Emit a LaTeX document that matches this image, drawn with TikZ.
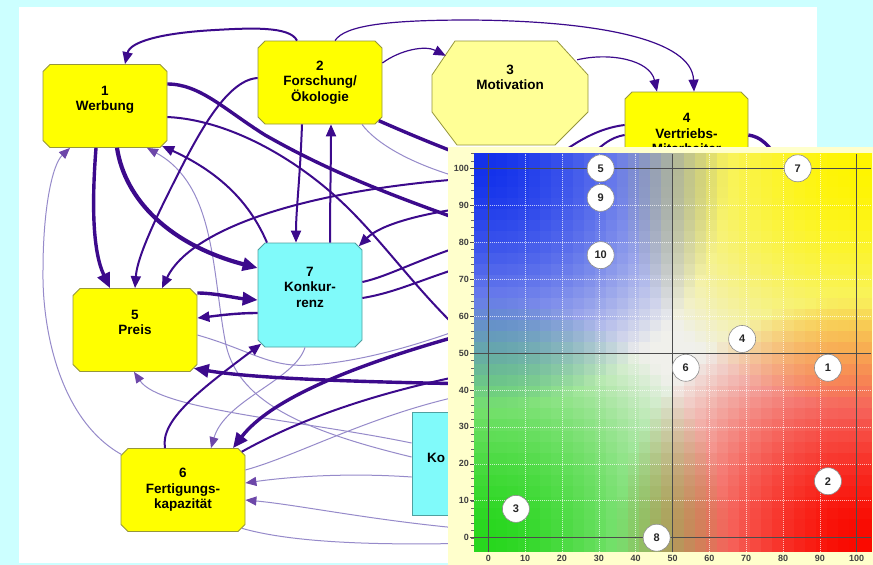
\documentclass[tikz,border=0pt]{standalone}
\usepackage{fontspec}
\setmainfont{Liberation Sans}
\usetikzlibrary{arrows.meta,shapes.misc}

\definecolor{pagecyan}{RGB}{204,255,255}
\definecolor{boxyellow}{RGB}{255,255,0}
\definecolor{paleyellow}{RGB}{255,255,150}
\definecolor{boxcyan}{RGB}{128,250,250}
\definecolor{boxedge}{RGB}{150,150,60}
\definecolor{cyanedge}{RGB}{80,160,160}
\definecolor{link}{RGB}{60,10,140}
\definecolor{lightlink}{RGB}{150,138,202}
\definecolor{chartbg}{RGB}{255,255,204}

\tikzset{
  box/.style={chamfered rectangle, chamfered rectangle sep=3.5pt, draw=boxedge, line width=0.8pt,
    fill=boxyellow, minimum width=124pt, minimum height=83pt, inner sep=0pt, align=center,
    font=\fontsize{13.5}{15.5}\selectfont\bfseries},
  cbox/.style={box, fill=boxcyan, draw=cyanedge, minimum width=104pt, minimum height=104pt},
  arr/.style={-{Triangle[length=12pt,width=10pt]}},
  lavarr/.style={-{Triangle[length=11pt,width=9pt,color=link!75]}},
  bigarr/.style={-{Triangle[length=15pt,width=13pt]}},
  thickl/.style={draw=link, line width=3.4pt},
  midl/.style={draw=link, line width=2pt},
  thinl/.style={draw=link, line width=1.2pt},
  lav/.style={draw=lightlink, line width=1pt},
  gridl/.style={white, opacity=0.7, line width=0.6pt, dash pattern=on 1pt off 1pt},
  axisl/.style={black!70, line width=0.8pt},
  ticklbl/.style={text=black!75, font=\fontsize{9}{9}\selectfont\bfseries, inner sep=0pt},
  dot/.style={circle, fill=white, draw=black!45, line width=0.6pt, minimum size=27pt, inner sep=0pt,
    text=black!85, font=\fontsize{11}{11}\selectfont\bfseries}
}

\begin{document}
\begin{tikzpicture}[x=1pt,y=-1pt]
\useasboundingbox (0,0) rectangle (873,565);
\fill[pagecyan] (0,0) rectangle (873,565);
\fill[white] (19,7) rectangle (817,563);

% factors
\node[box] (n1) at (105,106) {1\\Werbung\\\mbox{}};
\node[box] (n2) at (320,82.5) {2\\Forschung/\\Ökologie};
% octagon of factor 3
\filldraw[fill=paleyellow, draw=boxedge, line width=0.8pt] (455,41) -- (557,41) -- (588,75) -- (588,112)
  -- (555,145) -- (457,145) -- (432,112) -- (432,75) -- cycle;
\node[align=center, inner sep=0pt, minimum width=156pt, minimum height=104pt,
  font=\fontsize{13.5}{15.5}\selectfont\bfseries] (n3) at (510,93) {3\\Motivation\\\mbox{}\\\mbox{}};
\node[box, minimum width=123pt] (n4) at (686.5,133.5) {4\\Vertriebs-\\Mitarbeiter};
\node[box] (n5) at (135,330) {5\\Preis\\\mbox{}};
\node[box] (n6) at (183,490) {6\\Fertigungs-\\kapazität};
\node[cbox] (n7) at (310,295) {7\\Konkur-\\renz\\\mbox{}};
\node[cbox, minimum height=103pt] (n8) at (464,463.5) {};
\node[anchor=west, inner sep=0pt, font=\fontsize{13.5}{15.5}\selectfont\bfseries] (t8) at (427,458) {Ko};

% ends hidden below the chart
\coordinate (h1) at (475,225);
\coordinate (h2) at (475,345);
\coordinate (h3) at (475,178);
\coordinate (h4) at (480,162);
\coordinate (h5) at (480,183);
\coordinate (h6) at (480,206);
\coordinate (h7) at (480,240);
\coordinate (h8) at (480,262);
\coordinate (h9) at (480,322);
\coordinate (h10) at (480,384);
\coordinate (h11) at (480,330);
\coordinate (h12) at (480,372);
\coordinate (h13) at (480,392);
\coordinate (h14) at (480,530);
\coordinate (h15) at (480,543);
\coordinate (h16) at (540,170);
\coordinate (h17) at (580,170);
\coordinate (h18) at (785,170);

% weak links
\draw[lav, lavarr] (n8.west |- 0,457) .. controls (300,430) and (235,400) .. (225,340)
  .. controls (212,270) and (215,185) .. (n1.south -| 147,0);
\draw[lav, lavarr] (n6.150) .. controls (60,420) and (42,330) .. (43,270)
  .. controls (43,210) and (52,165) .. (n1.south -| 70,0);
\draw[lav] (n2.south -| 362,0) .. controls (375,142) and (410,166) .. (h5);
\draw[lav] (n5.east |- 0,335) .. controls (250,350) and (270,368) .. (310,365)
  .. controls (360,362) and (420,345) .. (h9);
\draw[lav, lavarr] (n7.south -| 305,0) .. controls (295,380) and (225,400) .. (n6.north -| 211,0);
\draw[lav, lavarr] (n8.west |- 0,443) .. controls (300,420) and (160,410) .. (n5.south -| 134,0);
\draw[lav] (n6.east |- 0,470) .. controls (300,455) and (380,410) .. (h13);
\draw[lav, lavarr] (n8.west |- 0,477) .. controls (340,472) and (280,478) .. (n6.east |- 0,483);
\draw[lav, lavarr] (h14) .. controls (380,522) and (300,505) .. (n6.east |- 0,500);
\draw[lav] (n6.south east) .. controls (300,545) and (400,545) .. (h15);

% links
\draw[midl, arr] (n2.north -| 297,0) .. controls (290,26) and (250,28) .. (215,30)
  .. controls (160,33) and (130,42) .. (n1.north -| 125,0);
\draw[thinl, arr] (n2.north -| 335,0) .. controls (345,25) and (390,20) .. (470,20)
  .. controls (600,21) and (692,40) .. (n4.north -| 694,0);
\draw[thinl, arr] (n2.east |- 0,63) .. controls (400,50) and (425,45) .. ([shift={(14,15)}]n3.north west);
\draw[thinl, arr] ([shift={(-11,19)}]n3.north east) .. controls (610,52) and (650,60) .. (n4.north -| 657,0);
\draw[thickl] (n1.east |- 0,84) .. controls (200,84) and (225,110) .. (265,135)
  .. controls (330,172) and (390,195) .. (h1);
\draw[midl] (n1.east |- 0,117) .. controls (230,120) and (300,160) .. (350,210)
  .. controls (390,250) and (420,295) .. (h2);
\draw[midl, arr] (n7.north -| 267,0) .. controls (255,215) and (232,178) .. (n1.-35);
\draw[thickl, bigarr] (n1.south -| 96,0) .. controls (92,200) and (92,250) .. (n5.north -| 110,0);
\draw[thickl, line width=4.2pt, bigarr] (n1.south -| 117,0) .. controls (125,200) and (170,245) .. (n7.west |- 0,268);
\draw[midl, arr] (n2.west |- 0,78) .. controls (225,80) and (195,140) .. (170,190)
  .. controls (150,230) and (137,260) .. (n5.north -| 135,0);
\draw[midl, arr] (h3) .. controls (300,190) and (190,230) .. (n5.north -| 162,0);
\draw[midl, arr] (n2.south -| 302,0) .. controls (300,180) and (296,210) .. (n7.north -| 296,0);
\draw[midl, arr] (n7.north -| 330,0) .. controls (330,200) and (331,160) .. (n2.south -| 331,0);
\draw[thickl] (n2.-33) .. controls (400,130) and (430,143) .. (h4);
\draw[midl, arr] (h6) .. controls (420,213) and (380,225) .. (n7.north east);
\draw[midl] (n7.east |- 0,282) .. controls (390,276) and (420,258) .. (h7);
\draw[midl] (n7.east |- 0,298) .. controls (400,292) and (430,275) .. (h8);
\draw[thickl, bigarr] (n5.east |- 0,293) .. controls (215,293) and (235,298) .. (n7.west |- 0,300);
\draw[midl, line width=2.4pt, arr] (n7.west |- 0,313) .. controls (235,313) and (215,316) .. (n5.east |- 0,318);
\draw[thickl, bigarr] (h10) .. controls (350,382) and (250,378) .. (n5.south east);
\draw[thickl, bigarr] (h11) .. controls (350,365) and (270,400) .. (n6.north -| 233,0);
\draw[midl, arr] (n6.north -| 165,0) .. controls (160,420) and (200,390) .. (n7.south west);
\draw[midl] (n6.north east) .. controls (290,425) and (360,395) .. (h12);
\draw[midl] (n4.west |- 0,125) .. controls (600,128) and (575,140) .. (h16);
\draw[midl] (n4.west |- 0,135) .. controls (612,137) and (598,145) .. (h17);
\draw[thickl] (n4.east |- 0,135) .. controls (760,137) and (768,142) .. (h18);

% portfolio chart laid over the net
\fill[chartbg] (448,147) rectangle (873,565);
\begin{scope}[shift={(488.3,537.7)}, x=3.684pt, y=3.694pt]
  \foreach \i in {0,...,35} {
    \pgfmathsetmacro\u{max(0,min(1,(3*\i-2.5)/100))}
    \foreach \j in {0,...,35} {
      \pgfmathsetmacro\v{max(0,min(1,(3*\j-2.5)/100))}
      \pgfmathsetmacro\wtl{1-pow(min(1,sqrt(\u*\u+(1-\v)*(1-\v))/0.65)+0.0001,1.5)}
      \pgfmathsetmacro\wtr{1-pow(min(1,sqrt((1-\u)*(1-\u)+(1-\v)*(1-\v))/0.65)+0.0001,1.5)}
      \pgfmathsetmacro\wbl{1-pow(min(1,sqrt(\u*\u+\v*\v)/0.65)+0.0001,1.5)}
      \pgfmathsetmacro\wbr{1-pow(min(1,sqrt((1-\u)*(1-\u)+\v*\v)/0.65)+0.0001,1.5)}
      \pgfmathtruncatemacro\cr{max(0,min(255,240-220*\wtl+15*\wtr-200*\wbl+10*\wbr))}
      \pgfmathtruncatemacro\cg{max(0,min(255,240-190*\wtl+5*\wtr-25*\wbl-230*\wbr))}
      \pgfmathtruncatemacro\cb{max(0,min(255,235-235*\wtr-205*\wbl-235*\wbr))}
      \definecolor{cellc}{RGB}{\cr,\cg,\cb}
      \fill[cellc] ({-4+3*\i},{-4+3*\j}) rectangle +(3.05,3.05);
    }
  }
  \foreach \t in {10,20,30,40,60,70,80,90} {
    \draw[gridl] (\t,-4) -- (\t,104);
    \draw[gridl] (-4,\t) -- (104,\t);
  }
  \foreach \t in {0,50,100} {
    \draw[axisl] (\t,-4) -- (\t,104);
    \draw[axisl] (-4,\t) -- (104,\t);
  }
  \foreach \m in {-2,0,...,104} \draw[black!60, line width=0.4pt] (-4,\m) -- (-4.6,\m);
  \foreach \t in {0,10,...,100} {
    \draw[black!70, line width=0.6pt] (-4,\t) -- (-5,\t);
    \node[ticklbl, anchor=east] (yl\t) at (-5.2,\t) {\t};
    \node[ticklbl] (xl\t) at (\t,-5.6) {\t};
  }
  \foreach \n/\px/\py in {1/92.2/46, 2/92.2/15.3, 3/7.5/7.8, 4/68.9/53.8, 5/30.5/100,
      6/53.6/46, 7/84/100, 8/45.7/0, 9/30.5/92, 10/30.5/76.5}
    \node[dot] (p\n) at (\px,\py) {\n};
\end{scope}
\end{tikzpicture}
\end{document}
